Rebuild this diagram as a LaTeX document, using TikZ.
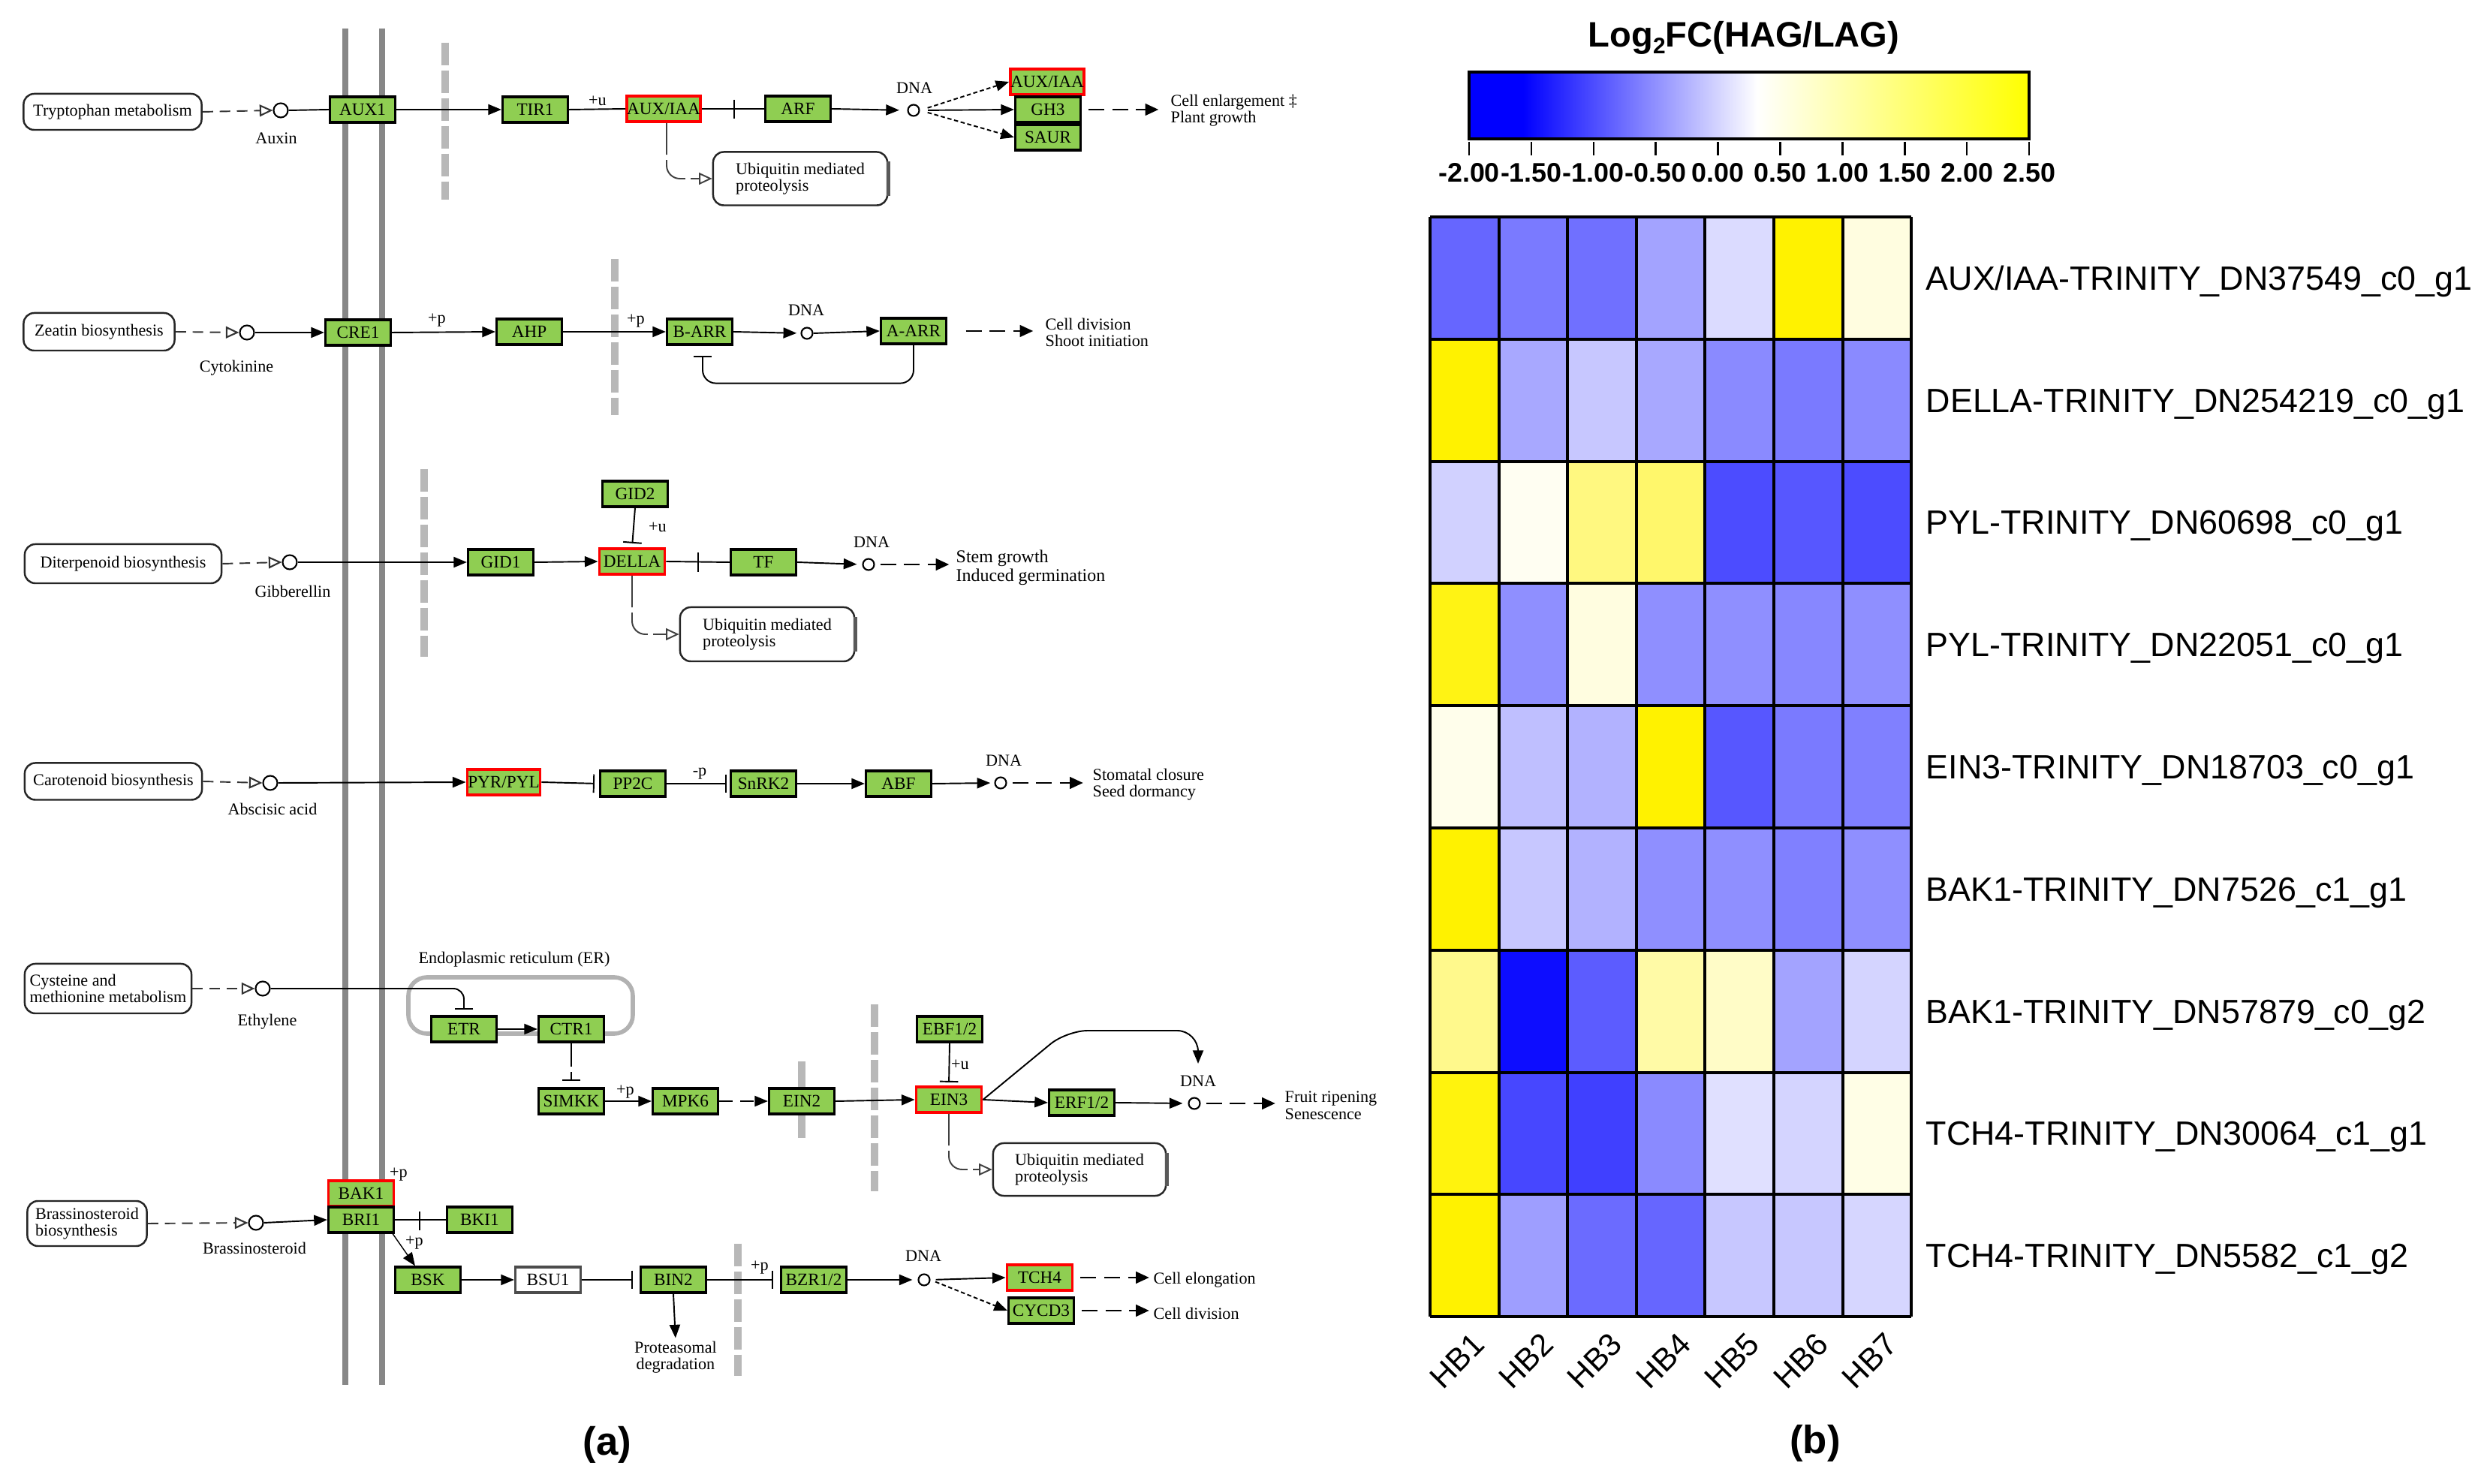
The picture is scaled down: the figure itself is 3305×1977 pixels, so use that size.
\documentclass[tikz,border=0pt]{standalone}
\usepackage{fontspec}
\setmainfont{Liberation Serif}
\newfontfamily\arialf{Liberation Sans}
\usetikzlibrary{arrows.meta,calc}
\definecolor{kgreen}{RGB}{143,206,82}
\newcommand\kt{\fontsize{6.3}{6.4}\selectfont}
\newcommand\ktb{\fontsize{6.8}{7.1}\selectfont}
\newcommand\kb{\fontsize{6.6}{7}\selectfont}
\begin{document}
\begin{tikzpicture}[x=0.01cm,y=-0.01cm,
  gene/.style={draw=black,line width=0.9pt,fill=kgreen,minimum width=0.87cm,minimum height=0.34cm,inner sep=0pt,font=\kb},
  hl/.style={draw=red,line width=1.1pt},
  metab/.style={draw=black!85,line width=0.7pt,rounded corners=4pt,inner sep=0pt,font=\kt,align=left},
  cpd/.style={circle,draw=black,line width=0.6pt,minimum size=0.19cm,inner sep=0pt,fill=white},
  dnac/.style={circle,draw=black,line width=0.6pt,minimum size=0.15cm,inner sep=0pt},
  lbl/.style={font=\kt,inner sep=0pt},
  lnk/.style={line width=0.55pt},
  act/.style={lnk,-{Triangle[length=5pt,width=4pt]}},
  inh/.style={lnk,-{Bar[width=7pt,line width=0.55pt]}},
  toc/.style={line width=0.55pt,draw=black!80,dash pattern=on 4pt off 2.5pt,-{Triangle[open,length=5pt,width=4.5pt,line width=0.6pt]}},
  fdash/.style={lnk,dash pattern=on 1.6pt off 1pt,-{Triangle[length=5pt,width=4pt]}},
  pheno/.style={lnk,dash pattern=on 6pt off 3pt,-{Triangle[length=5pt,width=4.5pt]}},
  ldash/.style={line width=0.55pt,draw=black!75,dash pattern=on 12pt off 2pt,rounded corners=5pt,-{Triangle[open,length=5pt,width=4.5pt]}},
  wall/.style={draw=black!28,line width=3pt,dash pattern=on 8.5pt off 2pt},
  memb/.style={draw=black!47,line width=2pt},
  ushadow/.style={draw=black!65,line width=1.5pt},
  hmlab/.style={font=\arialf\fontsize{12.75}{14}\selectfont,inner sep=0pt,anchor=base west},
]
\useasboundingbox (0,0) rectangle (3305,1977);
\fill[white] (0,0) rectangle (3305,1977);

% ---------- membranes, walls ----------
\draw[memb] (460,38) -- (460,1845);
\draw[memb] (509,38) -- (509,1845);
\draw[wall] (593,57) -- (593,266);
\draw[wall] (819,345) -- (819,553);
\draw[wall] (565,625) -- (565,875);
\draw[wall] (1165,1338) -- (1165,1587);
\draw[wall] (983,1657) -- (983,1833);
\draw[draw=black!28,line width=3pt] (1068,1414) -- (1068,1516);
\draw[draw=black!30,line width=1.6pt,rounded corners=7pt] (544,1302) rectangle (843,1377);
\node[lbl] (erl) at (685,1278) {Endoplasmic reticulum (ER)};

% ---------- Row 1: auxin ----------
\node[metab,minimum width=2.37cm,minimum height=0.48cm,align=center] (trp) at (150,149) {Tryptophan metabolism};
\node[cpd] (auxC) at (374,147) {};
\node[lbl] (auxL) at (368,184) {Auxin};
\node[gene] (AUX1) at (483,146) {AUX1};
\node[gene] (TIR1) at (713,146) {TIR1};
\node[gene,hl,minimum width=0.95cm] (AUXIAA) at (884,145) {AUX/IAA};
\node[gene] (ARF) at (1063,145) {ARF};
\node[dnac] (dna1) at (1217,147) {};
\node[lbl] (dnal1) at (1218,117) {DNA};
\node[gene,hl,minimum width=0.89cm] (AUXIAA2) at (1395,109) {AUX/IAA};
\node[gene] (GH3) at (1396,146) {GH3};
\node[gene] (SAUR) at (1396,183) {SAUR};
\node[lbl,anchor=west,align=left] (txt1) at (1559,147) {Cell enlargement ‡\\Plant growth};
\node[metab,minimum width=2.32cm,minimum height=0.71cm] (ubq1) at (1066,238) {Ubiquitin mediated\\proteolysis};
\draw[ushadow] ([yshift=-4pt]ubq1.north east) -- ([yshift=4pt]ubq1.south east);
\node[lbl] (u1) at (796,134) {+u};
\draw[toc] (trp.east) -- (auxC.west);
\draw[lnk] (auxC.east) -- (AUX1.west);
\draw[act] (AUX1.east) -- (TIR1.west);
\draw[lnk] (TIR1.east) -- (AUXIAA.west);
\draw[lnk] (AUXIAA.east) -- (ARF.west);
\draw[lnk] ($(AUXIAA.east)!0.52!(ARF.west)$) +(0,-12) -- +(0,13);
\draw[act,shorten >=3pt] (ARF.east) -- (dna1.west);
\draw[fdash,shorten <=3pt] (dna1.east) -- (AUXIAA2.west);
\draw[act,shorten <=3pt] (dna1.east) -- (GH3.west);
\draw[fdash,shorten <=3pt] (dna1.east) -- (SAUR.west);
\draw[pheno,shorten <=2.5pt,shorten >=4.5pt] (GH3.east) -- (GH3.east -| txt1.west);
\draw[ldash] ([xshift=0.04cm]AUXIAA.south) |- (ubq1.west);

% ---------- Row 2: cytokinin ----------
\node[metab,minimum width=2.01cm,minimum height=0.50cm,align=center] (zea) at (132,442) {Zeatin biosynthesis};
\node[cpd] (cytC) at (329,443) {};
\node[lbl] (cytL) at (315,490) {Cytokinine};
\node[gene] (CRE1) at (477,443) {CRE1};
\node[gene] (AHP) at (705,442) {AHP};
\node[gene] (BARR) at (932,442) {B-ARR};
\node[dnac] (dna2) at (1075,444) {};
\node[lbl] (dnal2) at (1074,413) {DNA};
\node[gene] (AARR) at (1217,441) {A-ARR};
\node[lbl,anchor=west,align=left] (txt2) at (1392,443) {Cell division\\Shoot initiation};
\node[lbl] (p1) at (582,427) {+p};
\node[lbl] (p2) at (847,428) {+p};
\draw[toc] (zea.east) -- (cytC.west);
\draw[act] (cytC.east) -- (CRE1.west);
\draw[act] (CRE1.east) -- (AHP.west);
\draw[act] (AHP.east) -- (BARR.west);
\draw[act,shorten >=1.5pt] (BARR.east) -- (dna2.west);
\draw[act] (dna2.east) -- (AARR.west);
\draw[pheno,shorten <=7pt,shorten >=4.5pt] (AARR.east) -- (AARR.east -| txt2.west);
\draw[inh,rounded corners=5pt] (AARR.south) -- ++(0,51) -| ([xshift=0.04cm,yshift=-0.13cm]BARR.south);

% ---------- Row 3: gibberellin ----------
\node[metab,minimum width=2.62cm,minimum height=0.52cm,align=center] (dit) at (164,751) {Diterpenoid biosynthesis};
\node[cpd] (gibC) at (386,749) {};
\node[lbl] (gibL) at (390,788) {Gibberellin};
\node[gene] (GID1) at (667,749) {GID1};
\node[gene,hl] (DELLA) at (842,748) {DELLA};
\node[gene] (GID2) at (846,658) {GID2};
\node[gene] (TF) at (1017,749) {TF};
\node[dnac] (dna3) at (1157,752) {};
\node[lbl] (dnal3) at (1161,722) {DNA};
\node[lbl,anchor=west,align=left,font=\ktb] (txt3) at (1273,756) {Stem growth\\Induced germination};
\node[metab,minimum width=2.32cm,minimum height=0.72cm] (ubq2) at (1022,845) {Ubiquitin mediated\\proteolysis};
\draw[ushadow] ([yshift=-4pt]ubq2.north east) -- ([yshift=4pt]ubq2.south east);
\node[lbl] (u2) at (876,702) {+u};
\draw[toc] (dit.east) -- (gibC.west);
\draw[act] (gibC.east) -- (GID1.west);
\draw[act] (GID1.east) -- (DELLA.west);
\draw[inh,shorten >=1.5pt] (GID2.south) -- (DELLA.north);
\draw[lnk] (DELLA.east) -- (TF.west);
\draw[lnk] ($(DELLA.east)!0.5!(TF.west)$) +(0,-12) -- +(0,14);
\draw[act,shorten >=2pt] (TF.east) -- (dna3.west);
\draw[pheno,shorten <=2pt,shorten >=2.5pt] (dna3.east) -- (dna3.east -| txt3.west);
\draw[ldash] (DELLA.south) |- (ubq2.west);

% ---------- Row 4: abscisic acid ----------
\node[metab,minimum width=2.36cm,minimum height=0.49cm,align=center] (car) at (151,1041) {Carotenoid biosynthesis};
\node[cpd] (abaC) at (360,1043) {};
\node[lbl] (abaL) at (363,1078) {Abscisic acid};
\node[gene,hl,minimum width=0.97cm] (PYR) at (671,1042) {PYR/PYL};
\node[gene] (PP2C) at (843,1044) {PP2C};
\node[gene] (SnRK2) at (1017,1044) {SnRK2};
\node[gene] (ABF) at (1197,1044) {ABF};
\node[dnac] (dna4) at (1333,1043) {};
\node[lbl] (dnal4) at (1337,1013) {DNA};
\node[lbl,anchor=west,align=left] (txt4) at (1455,1045) {Stomatal closure\\Seed dormancy};
\node[lbl] (mp1) at (932,1031) {-p};
\draw[toc] (car.east) -- (abaC.west);
\draw[act] (abaC.east) -- (PYR.west);
\draw[inh,shorten >=1.7pt] (PYR.east) -- (PP2C.west);
\draw[inh,shorten >=1.2pt] (PP2C.east) -- (SnRK2.west);
\draw[act] (SnRK2.east) -- (ABF.west);
\draw[act,shorten >=1.5pt] (ABF.east) -- (dna4.west);
\draw[pheno,shorten <=2pt,shorten >=3.5pt] (dna4.east) -- (dna4.east -| txt4.west);

% ---------- Row 5: ethylene ----------
\node[metab,minimum width=2.22cm,minimum height=0.66cm] (cys) at (144,1317) {Cysteine and\\methionine metabolism};
\node[cpd] (ethC) at (350,1317) {};
\node[lbl] (ethL) at (356,1361) {Ethylene};
\node[gene] (ETR) at (618,1371) {ETR};
\node[gene] (CTR1) at (761,1371) {CTR1};
\node[gene] (SIMKK) at (761,1467) {SIMKK};
\node[gene] (MPK6) at (913,1467) {MPK6};
\node[gene] (EIN2) at (1068,1467) {EIN2};
\node[gene,hl] (EIN3) at (1264,1465) {EIN3};
\node[gene] (EBF) at (1265,1371) {EBF1/2};
\node[gene] (ERF) at (1441,1469) {ERF1/2};
\node[dnac] (dna5) at (1591,1470) {};
\node[lbl] (dnal5) at (1596,1440) {DNA};
\node[lbl,anchor=west,align=left] (txt5) at (1711,1473) {Fruit ripening\\Senescence};
\node[metab,minimum width=2.30cm,minimum height=0.70cm] (ubq3) at (1438,1558) {Ubiquitin mediated\\proteolysis};
\draw[ushadow] ([yshift=-4pt]ubq3.north east) -- ([yshift=4pt]ubq3.south east);
\node[lbl] (p3) at (833,1455) {+p};
\node[lbl] (u3) at (1279,1418) {+u};
\coordinate (bend5) at (1421,1373);
\draw[toc] (cys.east) -- (ethC.west);
\draw[inh,rounded corners=4pt] (ethC.east) -| ([yshift=0.07cm]ETR.north);
\draw[act] (ETR.east) -- (CTR1.west);
\draw[inh,dash pattern=on 9pt off 2pt,shorten >=2.3pt] (CTR1.south) -- (SIMKK.north);
\draw[act] (SIMKK.east) -- (MPK6.west);
\draw[act,dash pattern=on 5pt off 3pt] (MPK6.east) -- (EIN2.west);
\draw[act] (EIN2.east) -- (EIN3.west);
\draw[inh,shorten >=1.2pt] (EBF.south) -- (EIN3.north);
\draw[act] (EIN3.east) -- (ERF.west);
\draw[act,shorten >=2pt] (ERF.east) -- (dna5.west);
\draw[pheno,shorten <=2pt,shorten >=3.5pt] (dna5.east) -- (dna5.east -| txt5.west);
\draw[act,rounded corners=8pt] (EIN3.east) -- (bend5) -| ([yshift=0.15cm]dnal5.north);
\draw[ldash] (EIN3.south) |- (ubq3.west);

% ---------- Row 6: brassinosteroid ----------
\node[metab,minimum width=1.59cm,minimum height=0.60cm] (bra) at (116,1630) {Brassinosteroid\\biosynthesis};
\node[cpd] (brC) at (341,1629) {};
\node[lbl] (brL) at (339,1663) {Brassinosteroid};
\node[gene,hl] (BAK1) at (481,1590) {BAK1};
\node[gene] (BRI1) at (481,1625) {BRI1};
\node[gene] (BKI1) at (639,1625) {BKI1};
\node[gene] (BSK) at (570,1705) {BSK};
\node[gene,fill=white,draw=black!70] (BSU1) at (730,1705) {BSU1};
\node[gene] (BIN2) at (897,1705) {BIN2};
\node[gene] (BZR) at (1084,1705) {BZR1/2};
\node[dnac] (dna6) at (1231,1705) {};
\node[lbl] (dnal6) at (1230,1673) {DNA};
\node[gene,hl] (TCH4) at (1385,1702) {TCH4};
\node[gene] (CYCD3) at (1387,1746) {CYCD3};
\node[lbl,anchor=west] (txt6a) at (1536,1705) {Cell elongation};
\node[lbl,anchor=west] (txt6b) at (1536,1750) {Cell division};
\node[lbl,align=center] (prot) at (900,1808) {Proteasomal\\degradation};
\node[lbl] (p4) at (531,1565) {+p};
\node[lbl] (p5) at (552,1656) {+p};
\node[lbl] (p6) at (1012,1689) {+p};
\draw[toc] (bra.east) -- (brC.west);
\draw[act] (brC.east) -- (BRI1.west);
\draw[lnk] (BRI1.east) -- (BKI1.west);
\draw[lnk] ($(BRI1.east)!0.49!(BKI1.west)$) +(0,-11) -- +(0,14);
\draw[line width=0.4pt,-{Triangle[length=5pt,width=4pt]}] ([xshift=-0.03cm]BRI1.south east) -- ([xshift=-0.17cm]BSK.north);
\draw[act] (BSK.east) -- (BSU1.west);
\draw[inh,shorten >=2.5pt] (BSU1.east) -- (BIN2.west);
\draw[act,shorten >=1pt] (BIN2.south) -- (prot.north);
\draw[inh,shorten >=2.5pt] (BIN2.east) -- (BZR.west);
\draw[act,shorten >=2pt] (BZR.east) -- (dna6.west);
\draw[act,shorten <=2pt] (dna6.east) -- (TCH4.west);
\draw[fdash,shorten <=2pt] (dna6.east) -- (CYCD3.west);
\draw[pheno,shorten <=2.5pt,shorten >=1.5pt] (TCH4.east) -- (TCH4.east -| txt6a.west);
\draw[pheno,shorten <=2.5pt,shorten >=1.5pt] (CYCD3.east) -- (CYCD3.east -| txt6b.west);

\node[font=\arialf\bfseries\fontsize{15}{16}\selectfont] (la) at (809,1925) {(a)};

% ---------- Heatmap ----------
\node[font=\arialf\bfseries\fontsize{13.4}{14}\selectfont,anchor=base,inner sep=0pt] (title) at (2323,63)
  {Log\raisebox{-0.35ex}{\fontsize{8.5}{9}\selectfont 2}FC(HAG/LAG)};
\fill[blue] (1957,96) rectangle (2030,185);
\shade[left color=blue,right color=white] (2029,96) rectangle (2341,185);
\shade[left color=white,right color=yellow] (2340,96) rectangle (2703,185);
\draw[line width=1.1pt] (1957,96) rectangle (2703,185);
\foreach \v [count=\k from 0] in {-2.00,-1.50,-1.00,-0.50,0.00,0.50,1.00,1.50,2.00,2.50}{
  \draw[line width=0.7pt] ({1957+\k*82.9},189) -- ({1957+\k*82.9},207);
  \node[font=\arialf\bfseries\fontsize{10.2}{11}\selectfont,anchor=base,inner sep=0pt] (tk\k) at ({1957+\k*82.9},243) {\v};
}
\foreach \row [count=\j from 0] in {
 {blue!60!white,blue!52!white,blue!56!white,blue!36!white,blue!14!white,yellow,yellow!12!white},
 {yellow,blue!34!white,blue!22!white,blue!34!white,blue!46!white,blue!52!white,blue!46!white},
 {blue!18!white,yellow!5!white,yellow!50!white,yellow!58!white,blue!70!white,blue!66!white,blue!70!white},
 {yellow!92!white,blue!44!white,yellow!12!white,blue!44!white,blue!44!white,blue!47!white,blue!44!white},
 {yellow!8!white,blue!25!white,blue!30!white,yellow,blue!66!white,blue!52!white,blue!50!white},
 {yellow,blue!22!white,blue!30!white,blue!44!white,blue!44!white,blue!50!white,blue!44!white},
 {yellow!45!white,blue!95!white,blue!64!white,yellow!35!white,yellow!22!white,blue!36!white,blue!17!white},
 {yellow!95!white,blue!72!white,blue!75!white,blue!46!white,blue!12!white,blue!17!white,yellow!10!white},
 {yellow,blue!38!white,blue!58!white,blue!60!white,blue!22!white,blue!22!white,blue!16!white}}{
  \foreach \cc [count=\i from 0] in \row {
    \fill[\cc] ({1905+\i*91.6},{289+\j*162.8}) rectangle ({1905+(\i+1)*91.6},{289+(\j+1)*162.8});
  }
}
\foreach \i in {0,...,7}{\draw[line width=1.1pt] ({1905+\i*91.6},289) -- ({1905+\i*91.6},1754);}
\foreach \j in {0,...,9}{\draw[line width=1.1pt] (1905,{289+\j*162.8}) -- (2546,{289+\j*162.8});}
\foreach \t [count=\j from 0] in {AUX/IAA-TRINITY\_DN37549\_c0\_g1,DELLA-TRINITY\_DN254219\_c0\_g1,PYL-TRINITY\_DN60698\_c0\_g1,PYL-TRINITY\_DN22051\_c0\_g1,EIN3-TRINITY\_DN18703\_c0\_g1,BAK1-TRINITY\_DN7526\_c1\_g1,BAK1-TRINITY\_DN57879\_c0\_g2,TCH4-TRINITY\_DN30064\_c1\_g1,TCH4-TRINITY\_DN5582\_c1\_g2}{
  \node[hmlab] (rl\j) at (2565,{289+(\j+0.5)*162.8+16}) {\t};
}
\foreach \h [count=\i from 0] in {HB1,HB2,HB3,HB4,HB5,HB6,HB7}{
  \node[font=\arialf\fontsize{12}{13}\selectfont,rotate=45,inner sep=0pt] (cl\i) at ({1941+\i*91.6},1813) {\h};
}
\node[font=\arialf\bfseries\fontsize{15}{16}\selectfont] (lb) at (2418,1923) {(b)};
\end{tikzpicture}
\end{document}
